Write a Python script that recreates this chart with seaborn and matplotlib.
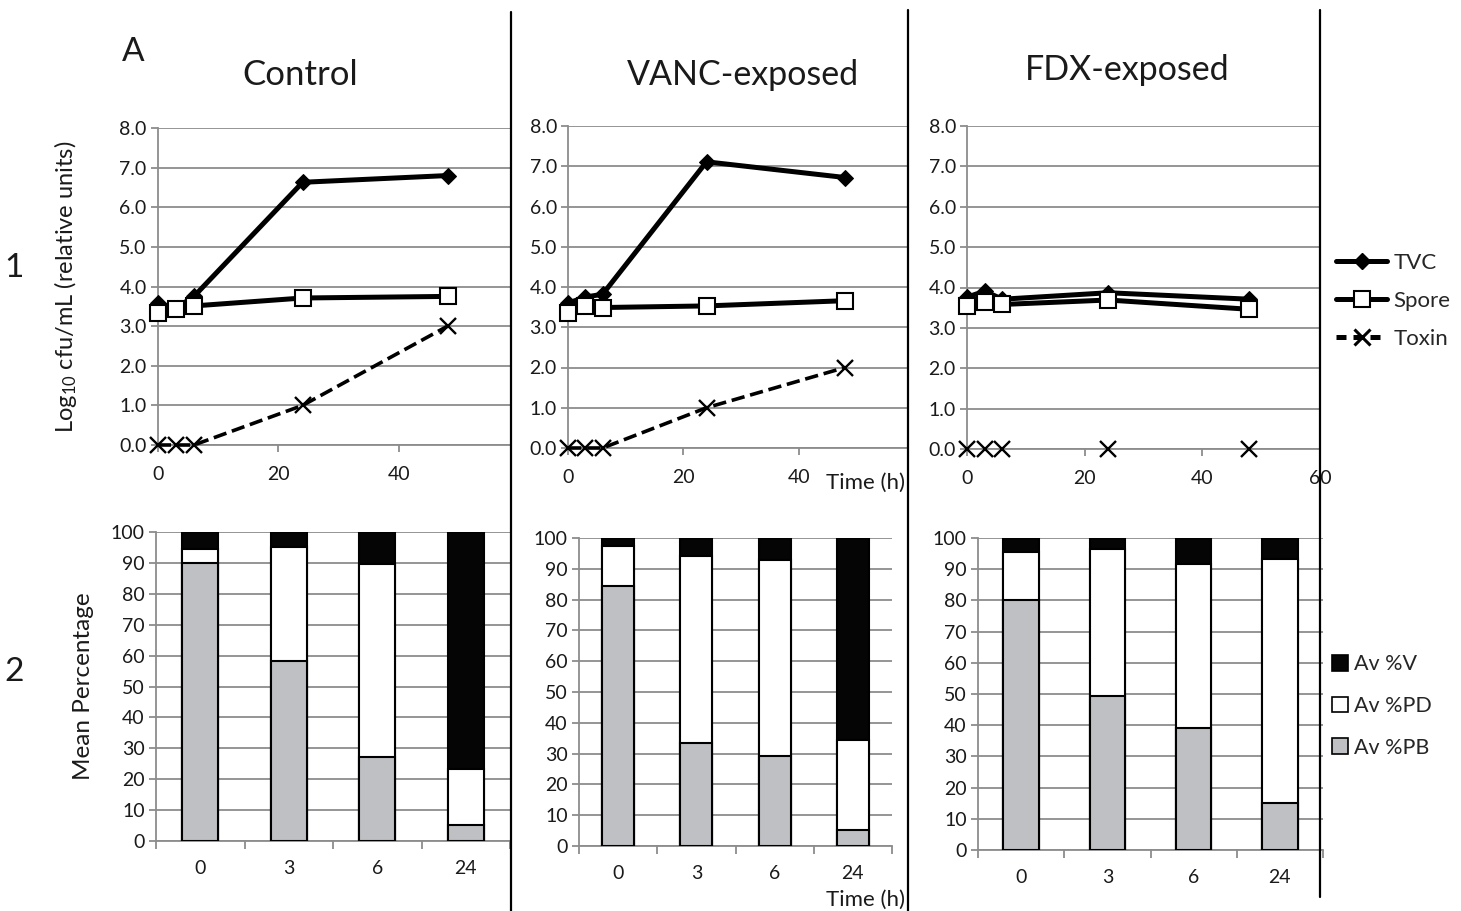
import numpy as np
import pandas as pd
import matplotlib
matplotlib.use("Agg")
import matplotlib.pyplot as plt
from matplotlib.lines import Line2D
from matplotlib.patches import Patch
import seaborn as sns

# ---------------- data ----------------
hours = [0, 3, 6, 24, 48]
groups = ["Control", "VANC-exposed", "FDX-exposed"]

tvc_control = [3.58, 3.45, 3.75, 6.63, 6.80]
spore_control = [3.33, 3.43, 3.51, 3.71, 3.75]
toxin_control = [0, 0, 0, 1.0, 3.0]

tvc_vanc = [3.60, 3.75, 3.82, 7.11, 6.72]
spore_vanc = [3.35, 3.53, 3.49, 3.53, 3.66]
toxin_vanc = [0, 0, 0, 1.0, 2.0]

tvc_fdx = [3.76, 3.91, 3.71, 3.87, 3.71]
spore_fdx = [3.54, 3.63, 3.58, 3.69, 3.46]
toxin_fdx = [0, 0, 0, 0, 0]

bar_times = ["0", "3", "6", "24"]
pb_control = [90.0, 58.2, 27.1, 5.1]
pd_control = [4.6, 36.9, 62.6, 18.2]
v_control = [5.4, 4.9, 10.3, 76.7]

pb_vanc = [84.3, 33.3, 29.3, 5.1]
pd_vanc = [13.2, 60.7, 63.6, 29.3]
v_vanc = [2.5, 6.0, 7.1, 65.6]

pb_fdx = [80.0, 49.2, 39.1, 15.2]
pd_fdx = [15.6, 47.4, 52.7, 78.1]
v_fdx = [4.4, 3.4, 8.2, 6.7]

# ---------------- style ----------------
sns.set_theme(style="white")
plt.rcParams["font.family"] = ["Lato", "DejaVu Sans"]
plt.rcParams["mathtext.fontset"] = "custom"
plt.rcParams["mathtext.rm"] = "Lato"
plt.rcParams["mathtext.it"] = "Lato:italic"

W, H = 1461, 911
GRID = "#8c8c8c"
TXT = "#1a1a1a"
PB_COL = "#bfc0c4"
TICK_FS = 14

fig = plt.figure(figsize=(W / 100, H / 100), dpi=100)


def rect(l, r, t, b):
    return [l / W, 1 - b / H, (r - l) / W, (b - t) / H]


def style_axes(ax):
    for s in ["top", "right"]:
        ax.spines[s].set_visible(False)
    for s in ["left", "bottom"]:
        ax.spines[s].set_color(GRID)
        ax.spines[s].set_linewidth(1.3)
    ax.yaxis.grid(True, color=GRID, linewidth=1.3)
    ax.xaxis.grid(False)
    ax.set_axisbelow(True)
    ax.tick_params(axis="both", which="both", colors=GRID, labelcolor=TXT,
                   labelsize=TICK_FS, width=1.3)
    ax.tick_params(axis="y", length=5, pad=3, direction="out", left=True)
    ax.set_xlabel("")
    ax.set_ylabel("")


def line_panel(rc, xmax, tvc, spore, toxin, toxin_line=True):
    ax = fig.add_axes(rc)
    df = pd.DataFrame({"h": hours, "tvc": tvc, "spore": spore, "toxin": toxin})
    sns.lineplot(data=df, x="h", y="toxin", ax=ax, color="black",
                 linestyle="--" if toxin_line else "none", linewidth=2.6,
                 marker="x", markersize=12, markeredgewidth=1.7,
                 markeredgecolor="black",
                 clip_on=False, zorder=3, dashes=(3.2, 2.2) if toxin_line else None)
    sns.lineplot(data=df, x="h", y="tvc", ax=ax, color="black", linewidth=3.6,
                 marker="D", markersize=8, markeredgecolor="black",
                 clip_on=False, zorder=4)
    sns.lineplot(data=df, x="h", y="spore", ax=ax, color="black", linewidth=3.6,
                 marker="s", markersize=12, markerfacecolor="white",
                 markeredgecolor="black", markeredgewidth=1.5,
                 clip_on=False, zorder=5)
    ax.set_xlim(0, xmax)
    ax.set_ylim(0, 8)
    ax.set_yticks(np.arange(0, 8.01, 1.0))
    ax.set_yticklabels([f"{v:.1f}" for v in np.arange(0, 8.01, 1.0)])
    ax.set_xticks([t for t in [0, 20, 40, 60] if t <= xmax + 0.01])
    style_axes(ax)
    ax.tick_params(axis="x", length=5, pad=10, direction="out", bottom=True)
    return ax


def bar_panel(rc, xmax, pb, pdv, v):
    ax = fig.add_axes(rc)
    pb = np.array(pb)
    pdv = np.array(pdv)
    v = np.array(v)
    tops = [pb + pdv + v, pb + pdv, pb]
    cols = ["#050505", "white", PB_COL]
    for hgt, c in zip(tops, cols):
        sns.barplot(x=bar_times, y=hgt, ax=ax, color=c, saturation=1,
                    width=0.41, edgecolor="black", linewidth=1.5, zorder=3)
    ax.set_xlim(-0.5, xmax)
    ax.set_ylim(0, 100)
    ax.set_yticks(np.arange(0, 101, 10))
    ax.set_yticklabels([str(t) for t in range(0, 101, 10)])
    ax.set_xticks(range(4))
    ax.set_xticklabels(bar_times)
    ax.set_xticks([-0.5, 0.5, 1.5, 2.5, 3.5], minor=True)
    style_axes(ax)
    ax.tick_params(axis="x", which="major", length=0, pad=14)
    ax.tick_params(axis="x", which="minor", length=6, direction="out", bottom=True)
    return ax


# ---------------- top row: line charts ----------------
ax1 = line_panel(rect(157.7, 511, 128, 445), 58.5, tvc_control, spore_control, toxin_control)
ax2 = line_panel(rect(568, 908, 126, 448), 58.9, tvc_vanc, spore_vanc, toxin_vanc)
ax3 = line_panel(rect(967, 1320, 126, 449), 60, tvc_fdx, spore_fdx, toxin_fdx, toxin_line=False)

# ---------------- bottom row: stacked bars ----------------
bx1 = bar_panel(rect(156, 510, 532, 841), 3.5, pb_control, pd_control, v_control)
bx2 = bar_panel(rect(579, 892, 538, 846), 3.24, pb_vanc, pd_vanc, v_vanc)
bx3 = bar_panel(rect(978, 1323, 538, 850), 3.5, pb_fdx, pd_fdx, v_fdx)

# ---------------- texts ----------------
def ftext(x, y, s, **kw):
    fig.text(x / W, 1 - y / H, s, **kw)

ftext(133, 52, "A", fontsize=24, ha="center", va="center", color=TXT)
ftext(300, 75, groups[0], fontsize=25, ha="center", va="center", color=TXT)
ftext(743, 75, groups[1], fontsize=24.5, ha="center", va="center", color=TXT)
ftext(1127, 70, groups[2], fontsize=24.5, ha="center", va="center", color=TXT)
ftext(14, 268, "1", fontsize=24, ha="center", va="center", color=TXT)
ftext(14, 672, "2", fontsize=24, ha="center", va="center", color=TXT)

ftext(66, 287, "Log$_{10}$ cfu/mL (relative units)", fontsize=17, rotation=90,
      ha="center", va="center", color=TXT)
ftext(84, 686, "Mean Percentage", fontsize=17.5, rotation=90,
      ha="center", va="center", color=TXT)
ftext(865, 483, "Time (h)", fontsize=16, ha="center", va="center", color=TXT)
ftext(865, 900, "Time (h)", fontsize=16, ha="center", va="center", color=TXT)

# ---------------- dividers ----------------
for x, y0, y1 in [(511, 12, 911), (908, 10, 911), (1320, 10, 897)]:
    fig.add_artist(Line2D([x / W, x / W], [1 - y0 / H, 1 - y1 / H],
                          color="black", linewidth=1.6))

# ---------------- legends ----------------
line_handles = [
    Line2D([], [], color="black", lw=3.6, marker="D", markersize=8),
    Line2D([], [], color="black", lw=3.6, marker="s", markersize=12,
           markerfacecolor="white", markeredgewidth=1.5),
    Line2D([], [], color="black", lw=3.6, linestyle=(0, (2.0, 1.4)), marker="x",
           markersize=12, markeredgewidth=2.2),
]
fig.legend(line_handles, ["TVC", "Spore", "Toxin"], loc="center left",
           bbox_to_anchor=(1316 / W, 1 - 301 / H), frameon=False, fontsize=16,
           handlelength=2.3, handletextpad=0.3, labelspacing=0.82)

bar_handles = [
    Patch(facecolor="#050505", edgecolor="black", linewidth=1.2),
    Patch(facecolor="white", edgecolor="black", linewidth=1.2),
    Patch(facecolor=PB_COL, edgecolor="black", linewidth=1.2),
]
fig.legend(bar_handles, ["Av %V", "Av %PD", "Av %PB"], loc="center left",
           bbox_to_anchor=(1313 / W, 1 - 706 / H), frameon=False, fontsize=15.5,
           handlelength=0.72, handleheight=0.72, handletextpad=0.3,
           labelspacing=1.0)

fig.savefig("out.png", dpi=100, facecolor="white")
